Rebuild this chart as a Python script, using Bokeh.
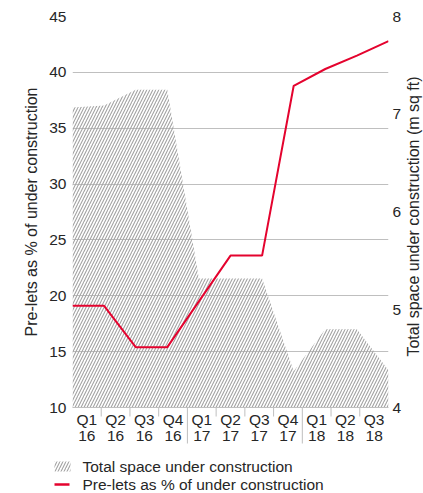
import math

from bokeh.core.properties import value
from bokeh.embed import file_html
from bokeh.models import ColumnDataSource, FixedTicker, LinearAxis, Range1d
from bokeh.plotting import figure
from bokeh.resources import INLINE

# Quarterly construction figures
quarters = ["Q1", "Q2", "Q3", "Q4", "Q1", "Q2", "Q3", "Q4", "Q1", "Q2", "Q3"]
years = ["16", "16", "16", "16", "17", "17", "17", "17", "18", "18", "18"]
space_msqft = [7.07, 7.09, 7.25, 7.25, 5.32, 5.32, 5.32, 4.37, 4.80, 4.80, 4.38]
prelet_pct = [19.1, 19.1, 15.4, 15.4, 19.5, 23.6, 23.6, 38.8, 40.3, 41.5, 42.8]
pct_ticks = [10, 15, 20, 25, 30, 35, 40, 45]
space_ticks = [4, 5, 6, 7, 8]
series_names = ["Total space under construction", "Pre-lets as % of under construction"]
space_title = "Total space under construction (m sq ft)"
pct_title = "Pre-lets as % of under construction"

FONT = "Liberation Sans"
TEXT = "#262626"
GRID = "#bfbfbf"
RED = "#e4032e"
HATCH = "#a3a3a3"
SIZE = "15.5px"

# Frame placement in canvas pixels
LEFT, RIGHT, TOP, BOTTOM = 72, 388, 16, 407
W, H = 423, 493

n = len(quarters)

p = figure(width=W, height=H, output_backend="svg", toolbar_location=None,
           x_range=Range1d(0, n), y_range=Range1d(pct_ticks[0], pct_ticks[-1]),
           min_border_left=LEFT, min_border_right=W - RIGHT, min_border_top=TOP,
           min_border_bottom=H - BOTTOM)
p.extra_x_ranges = {"series": Range1d(0, n - 1), "px": Range1d(LEFT, RIGHT)}
p.extra_y_ranges = {"space": Range1d(space_ticks[0], space_ticks[-1]),
                    "px": Range1d(BOTTOM, TOP)}
p.outline_line_color = None
p.background_fill_color = "white"
p.border_fill_color = "white"

# Category axis: labels in the middle of each quarter slot
centers = [i + 0.5 for i in range(n)]
xa = p.xaxis[0]
xa.ticker = FixedTicker(ticks=centers, minor_ticks=[])
xa.major_label_overrides = {c: f"{q}\n{y}" for c, q, y in zip(centers, quarters, years)}
xa.major_tick_in = 0
xa.major_tick_out = 0
xa.major_tick_line_color = None
xa.minor_tick_line_color = None
xa.axis_line_color = GRID
xa.major_label_standoff = 3
xa.major_label_text_font = FONT
xa.major_label_text_font_size = SIZE
xa.major_label_text_color = TEXT
xa.major_label_text_line_height = 0.95
p.xgrid.visible = False

# Left axis: pre-let percentage
ya = p.yaxis[0]
ya.ticker = FixedTicker(ticks=pct_ticks)
ya.major_tick_in = 0
ya.major_tick_out = 0
ya.minor_tick_line_color = None
ya.axis_line_color = None
ya.major_label_standoff = 6
ya.major_label_text_font = FONT
ya.major_label_text_font_size = SIZE
ya.major_label_text_color = TEXT
ya.axis_label = pct_title
ya.axis_label_text_font = FONT
ya.axis_label_text_font_size = "16px"
ya.axis_label_text_font_style = "normal"
ya.axis_label_text_color = TEXT
ya.axis_label_standoff = 6
p.ygrid.grid_line_color = GRID
p.ygrid.grid_line_width = 1

# Right axis: space under construction
ra = LinearAxis(y_range_name="space", ticker=FixedTicker(ticks=space_ticks))
ra.major_tick_in = 0
ra.major_tick_out = 0
ra.minor_tick_line_color = None
ra.axis_line_color = None
ra.major_label_standoff = 4
ra.major_label_text_font = FONT
ra.major_label_text_font_size = SIZE
ra.major_label_text_color = TEXT
p.add_layout(ra, "right")

# Right-hand axis title, reading upwards
p.text(x=[413], y=[216], text=[space_title], x_range_name="px", y_range_name="px",
       angle=math.pi / 2, text_align="center", text_baseline="middle",
       text_font=value(FONT), text_font_size="16px", text_color=TEXT, level="overlay")

# Separators between quarters, longer where a new year starts
edges = list(range(1, n))
new_year = [years[i] != years[i - 1] for i in edges]
sep_src = ColumnDataSource(dict(x=edges, lo=[BOTTOM + 36 if ny else BOTTOM + 9 for ny in new_year],
                                hi=[BOTTOM] * len(edges)))
p.segment(x0="x", y0="lo", x1="x", y1="hi", source=sep_src, y_range_name="px",
          line_color=GRID, line_width=1, level="overlay")

src = ColumnDataSource(dict(i=list(range(n)), space=space_msqft, prelet=prelet_pct))

hatch_style = dict(hatch_pattern="/", hatch_color=HATCH, hatch_weight=1.1, hatch_scale=6)

p.varea(x="i", y1=space_ticks[0], y2="space", source=src,
        x_range_name="series", y_range_name="space", fill_color=None, **hatch_style)

p.line(x="i", y="prelet", source=src, x_range_name="series",
       line_color=RED, line_width=2)

# Key below the chart
p.quad(left=[54], right=[70], top=[461], bottom=[471], x_range_name="px",
       y_range_name="px", fill_color=None, line_color=None, level="overlay",
       **hatch_style)
p.segment(x0=[54], y0=[484], x1=[69], y1=[484], x_range_name="px", y_range_name="px",
          line_color=RED, line_width=2.5, level="overlay")
p.text(x=[82, 82], y=[466, 484], text=series_names, x_range_name="px", y_range_name="px",
       text_align="left", text_baseline="middle", text_font=value(FONT),
       text_font_size=SIZE, text_color=TEXT, level="overlay")

open("out.html", "w").write(file_html(p, INLINE))
